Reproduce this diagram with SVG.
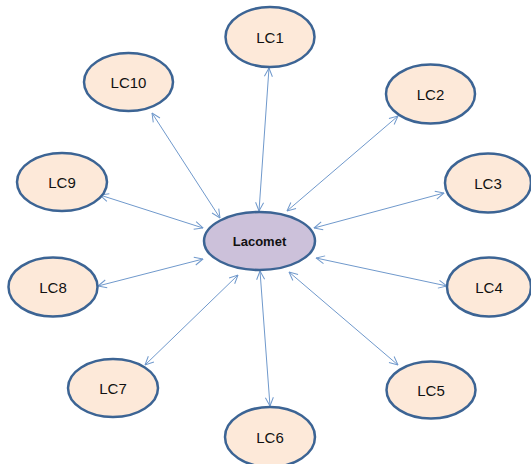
<svg xmlns="http://www.w3.org/2000/svg" width="531" height="464" viewBox="0 0 531 464">
<style>
.lc ellipse{fill:#fde9d9;stroke:#3c6494;stroke-width:2.5}
.hub ellipse{fill:#ccc1da;stroke:#3c6494;stroke-width:2.5}
text{font-family:"Liberation Sans","DejaVu Sans",sans-serif;font-size:15px;fill:#111;text-anchor:middle;dominant-baseline:central}
.hub text{font-size:13px;font-weight:bold}
#connectors line{stroke:#7099cc;stroke-width:1;marker-start:url(#ah);marker-end:url(#ah)}
</style>
<defs>
<marker id="ah" viewBox="0 0 10 10" refX="9.5" refY="5" markerWidth="10" markerHeight="10" markerUnits="userSpaceOnUse" orient="auto-start-reverse">
<path d="M1,1 L9.5,5 L1,9" fill="none" stroke="#7099cc" stroke-width="1"/>
</marker>
</defs>
<rect width="531" height="464" fill="#fff"/>
<g id="connectors">
<line x1="269" y1="68" x2="259" y2="211"/>
<line x1="398" y1="116" x2="287" y2="211"/>
<line x1="444" y1="193" x2="314" y2="228"/>
<line x1="447" y1="286" x2="316" y2="258"/>
<line x1="398" y1="365" x2="289" y2="272"/>
<line x1="270" y1="406" x2="260" y2="271"/>
<line x1="145" y1="365" x2="238" y2="275"/>
<line x1="98" y1="286" x2="203" y2="259"/>
<line x1="100" y1="195" x2="203" y2="228"/>
<line x1="152" y1="113" x2="220" y2="218"/>
</g>
<g id="lacomet" class="hub"><ellipse cx="259.5" cy="241" rx="55.5" ry="29"/><text x="259.5" y="241">Lacomet</text></g>
<g id="lc1" class="lc"><ellipse cx="270" cy="37" rx="44.5" ry="30"/><text x="270" y="37">LC1</text></g>
<g id="lc2" class="lc"><ellipse cx="430.5" cy="94" rx="44.5" ry="29.5"/><text x="430.5" y="94">LC2</text></g>
<g id="lc3" class="lc"><ellipse cx="488" cy="183" rx="43" ry="29.5"/><text x="488" y="183">LC3</text></g>
<g id="lc4" class="lc"><ellipse cx="489" cy="287" rx="42" ry="29.5"/><text x="489" y="287">LC4</text></g>
<g id="lc5" class="lc"><ellipse cx="431" cy="390" rx="44.5" ry="28.5"/><text x="431" y="390">LC5</text></g>
<g id="lc6" class="lc"><ellipse cx="270" cy="437" rx="45" ry="30"/><text x="270" y="437">LC6</text></g>
<g id="lc7" class="lc"><ellipse cx="113" cy="388" rx="45" ry="29"/><text x="113" y="388">LC7</text></g>
<g id="lc8" class="lc"><ellipse cx="53" cy="287" rx="44.5" ry="29.5"/><text x="53" y="287">LC8</text></g>
<g id="lc9" class="lc"><ellipse cx="62" cy="182" rx="45" ry="29"/><text x="62" y="182">LC9</text></g>
<g id="lc10" class="lc"><ellipse cx="128.5" cy="82" rx="44.5" ry="29"/><text x="128.5" y="82">LC10</text></g>
</svg>
